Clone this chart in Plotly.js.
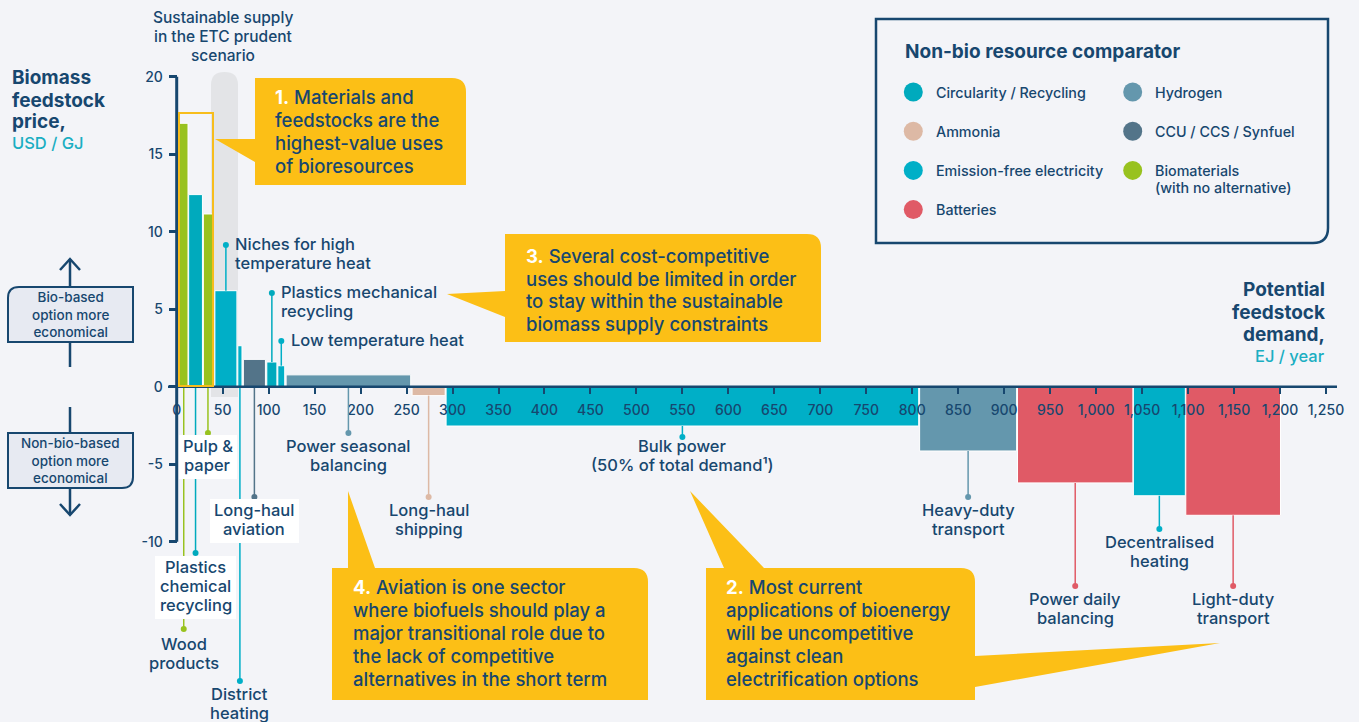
<!DOCTYPE html>
<html>
<head>
<meta charset="utf-8">
<script src="https://cdn.plot.ly/plotly-3.0.1.min.js"></script>
<style>
  html, body { margin: 0; padding: 0; background: #f3f4f8; }
  #chart { width: 1359px; height: 722px; }
</style>
</head>
<body>
<div id="chart"></div>
<script>
// bioresource uses, left to right along the demand axis
var uses = ['Wood<br>products', 'Plastics<br>chemical<br>recycling', 'Pulp &<br>paper',
  'Niches for high<br>temperature heat', 'District<br>heating', 'Long-haul<br>aviation',
  'Plastics mechanical<br>recycling', 'Low temperature heat', 'Power seasonal<br>balancing',
  'Long-haul<br>shipping', 'Bulk power<br>(50% of total demand¹)', 'Heavy-duty<br>transport',
  'Power daily<br>balancing', 'Decentralised<br>heating', 'Light-duty<br>transport'];
// potential feedstock demand, EJ / year (start and end of each block)
var demandFrom = [3, 13, 29, 41.5, 66.5, 72.5, 98, 110, 119, 256, 293, 808, 914.5, 1040.5, 1097.5];
var demandTo = [12.3, 28, 39, 65.5, 71, 96.5, 109, 117.5, 254.5, 292, 807, 913.5, 1040, 1097, 1200.5];
// biomass feedstock price, USD / GJ
var price = [17.0, 12.4, 11.15, 6.2, 2.65, 1.77, 1.6, 1.36, 0.77, -0.57, -2.53, -4.14, -6.2, -7.03, -8.29];
// non-bio resource comparator of each use
var comparator = ['bio', 'circ', 'bio', 'elec', 'elec', 'ccu', 'circ', 'elec', 'h2', 'nh3', 'elec', 'h2', 'batt', 'elec', 'batt'];

var legendKeys = ['circ', 'nh3', 'elec', 'batt', 'h2', 'ccu', 'bio'];
var legendNames = ['Circularity / Recycling', 'Ammonia', 'Emission-free electricity', 'Batteries',
  'Hydrogen', 'CCU / CCS / Synfuel', 'Biomaterials<br>(with no alternative)'];

var xTicks = [0, 50, 100, 150, 200, 250, 300, 350, 400, 450, 500, 550, 600, 650, 700, 750, 800, 850, 900, 950, 1000, 1050, 1100, 1150, 1200, 1250];
var yTicks = [-10, -5, 0, 5, 10, 15, 20];
var yTickText = ['-10', '-5', '0', '5', '10', '15', '20'];

var navy = '#17476f';
var unitTeal = '#1aaec2';
var yellow = '#fcbf16';
var colorOf = {bio: '#98c21f', circ: '#00aabd', elec: '#00afc7', h2: '#6497ad', ccu: '#537489', nh3: '#ddb9a5', batt: '#e05a66'};

// page geometry (px)
var W = 1359, H = 722;
var X0 = 176.7, XS = 0.91944;   // x pixel of 0 EJ, px per EJ
var Y0 = 386.8, YS = 15.5;      // y pixel of 0 USD, px per USD
function fx(p) { return p / W; }
function fy(p) { return 1 - p / H; }
function dy(p) { return (Y0 - p) / YS; }
function pt(x, y) { return fx(x).toFixed(5) + ',' + fy(y).toFixed(5); }

// where the label of each use sits: dot / first line y in px, left x if not centred
var labelSpots = [
  {dot: 629, y: 644}, {dot: 553, y: 567, box: [155, 556, 236, 619]}, {dot: 433, y: 446, box: [179, 435, 237, 479]},
  {dot: 245, y: 244, left: 233}, {dot: 681, y: 694}, {dot: 497, y: 510, box: [210, 499, 299, 543]},
  {dot: 293, y: 292, left: 279}, {dot: 341, y: 340, left: 289}, {dot: 433, y: 446},
  {dot: 497, y: 510}, {dot: 437, y: 446}, {dot: 497, y: 510},
  {dot: 586, y: 599}, {dot: 529, y: 542}, {dot: 586, y: 599}
];

var mids = [], widths = [], barColors = [], dotY = [];
for (var i = 0; i < price.length; i++) {
  mids.push((demandFrom[i] + demandTo[i]) / 2);
  widths.push(demandTo[i] - demandFrom[i]);
  barColors.push(colorOf[comparator[i]]);
  dotY.push(dy(labelSpots[i].dot));
}

var bars = {
  type: 'bar', x: mids, y: price, width: widths,
  marker: {color: barColors, line: {color: '#ffffff', width: 1}},
  hoverinfo: 'skip'
};
var dots = {
  type: 'scatter', mode: 'markers', x: mids, y: dotY, cliponaxis: false,
  marker: {color: barColors, size: 6}, hoverinfo: 'skip'
};

var shapes = [];
var annotations = [];

function textLines(lines, x, xref, y0, step, size, opts) {
  opts = opts || {};
  lines.forEach(function (t, k) {
    annotations.push({
      xref: xref, yref: 'paper', x: x, y: fy(y0 + k * step), text: t, showarrow: false,
      xanchor: opts.anchor || 'center', yanchor: 'middle', align: opts.anchor || 'center',
      font: {family: 'Inter, sans-serif', size: size, weight: opts.weight || 500, color: opts.color || navy}
    });
  });
}

// sustainable supply band
shapes.push({type: 'path', xref: 'paper', yref: 'paper', layer: 'below', line: {width: 0}, fillcolor: '#e3e4e7',
  path: 'M' + pt(211, 397) + 'L' + pt(211, 85) + 'Q' + pt(211, 72) + ' ' + pt(224.5, 72) + 'Q' + pt(238, 72) + ' ' + pt(238, 85) + 'L' + pt(238, 397) + 'Z'});

// leader lines and labels
for (var j = 0; j < price.length; j++) {
  var s = labelSpots[j];
  var from = (s.left || price[j] < 0) ? price[j] : 0;
  shapes.push({type: 'line', xref: 'x', yref: 'y', x0: mids[j], x1: mids[j], y0: from, y1: dotY[j],
    line: {color: barColors[j], width: 1.5}});
  var parts = uses[j].split('<br>');
  if (s.left) textLines(parts, fx(s.left), 'paper', s.y, 19, 16.5, {anchor: 'left'});
  else textLines(parts, mids[j], 'x', s.y, 19, 16.5);
}
labelSpots.forEach(function (s) {
  if (s.box) shapes.push({type: 'rect', xref: 'paper', yref: 'paper', x0: fx(s.box[0]), x1: fx(s.box[2]),
    y0: fy(s.box[3]), y1: fy(s.box[1]), fillcolor: '#ffffff', line: {width: 0}});
});

// axis lines
shapes.push({type: 'line', xref: 'paper', yref: 'y', x0: fx(168), x1: fx(1337), y0: 0, y1: 0, line: {color: navy, width: 2.5}});
shapes.push({type: 'line', xref: 'x', yref: 'y', x0: 0, x1: 0, y0: -10, y1: 20, line: {color: navy, width: 3}});

// highlight around the materials bars
shapes.push({type: 'rect', xref: 'paper', yref: 'paper', x0: fx(179), x1: fx(213), y0: fy(386), y1: fy(113),
  line: {color: '#f7bd1c', width: 2}});

// callouts
function callout(d) {
  shapes.push({type: 'path', xref: 'paper', yref: 'paper', fillcolor: yellow, line: {width: 0}, path: d});
}
callout('M' + pt(255, 78) + 'L' + pt(452, 78) + 'Q' + pt(466, 78) + ' ' + pt(466, 92) + 'L' + pt(466, 185) +
  'L' + pt(255, 185) + 'L' + pt(255, 162) + 'L' + pt(215, 139) + 'L' + pt(255, 139) + 'Z');
callout('M' + pt(505, 234) + 'L' + pt(807, 234) + 'Q' + pt(821, 234) + ' ' + pt(821, 248) + 'L' + pt(821, 342) +
  'L' + pt(505, 342) + 'L' + pt(505, 317) + 'L' + pt(447, 294) + 'L' + pt(505, 291) + 'Z');
callout('M' + pt(332, 568) + 'L' + pt(348, 568) + 'L' + pt(348, 491) + 'L' + pt(375, 568) + 'L' + pt(634, 568) +
  'Q' + pt(648, 568) + ' ' + pt(648, 582) + 'L' + pt(648, 700) + 'L' + pt(332, 700) + 'Z');
callout('M' + pt(706, 568) + 'L' + pt(724, 568) + 'L' + pt(690, 491) + 'L' + pt(764, 568) + 'L' + pt(961, 568) +
  'Q' + pt(975, 568) + ' ' + pt(975, 582) + 'L' + pt(975, 656) + 'L' + pt(1220, 643) + 'L' + pt(975, 687) +
  'L' + pt(975, 700) + 'L' + pt(706, 700) + 'Z');

function num(n) { return '<span style="color:#ffffff"><b>' + n + '</b></span> '; }
textLines([num('1.') + 'Materials and', 'feedstocks are the', 'highest-value uses', 'of bioresources'],
  fx(273), 'paper', 97, 23, 18.5, {anchor: 'left'});
textLines([num('3.') + 'Several cost-competitive', 'uses should be limited in order', 'to stay within the sustainable', 'biomass supply constraints'],
  fx(524), 'paper', 256, 22.5, 18.5, {anchor: 'left'});
textLines([num('4.') + 'Aviation is one sector', 'where biofuels should play a', 'major transitional role due to', 'the lack of competitive', 'alternatives in the short term'],
  fx(351), 'paper', 587, 23, 18.5, {anchor: 'left'});
textLines([num('2.') + 'Most current', 'applications of bioenergy', 'will be uncompetitive', 'against clean', 'electrification options'],
  fx(724), 'paper', 587, 23, 18.5, {anchor: 'left'});

// legend box
shapes.push({type: 'path', xref: 'paper', yref: 'paper', line: {color: navy, width: 2.5},
  path: 'M' + pt(876, 19) + 'L' + pt(1328, 19) + 'L' + pt(1328, 228) + 'Q' + pt(1328, 243) + ' ' + pt(1313, 243) + 'L' + pt(876, 243) + 'Z'});
textLines(['Non-bio resource comparator'], fx(903), 'paper', 52, 20, 19, {anchor: 'left', weight: 700});
legendKeys.forEach(function (k, n) {
  var col = n < 4 ? 0 : 1;
  var row = n < 4 ? n : n - 4;
  var cx = col ? 1132.7 : 913.3;
  var cy = 92 + row * 39.2;
  shapes.push({type: 'circle', xref: 'paper', yref: 'paper', x0: fx(cx - 9.5), x1: fx(cx + 9.5), y0: fy(cy + 9.5), y1: fy(cy - 9.5),
    fillcolor: colorOf[k], line: {width: 0}});
  textLines(legendNames[n].split('<br>'), fx(cx + 20.5), 'paper', cy, 17, 14.3, {anchor: 'left'});
});

// axis titles
textLines(['Biomass', 'feedstock', 'price,'], fx(10), 'paper', 78, 22, 19, {anchor: 'left', weight: 700});
textLines(['USD / GJ'], fx(10), 'paper', 143, 20, 16.5, {anchor: 'left', color: unitTeal});
textLines(['Potential', 'feedstock', 'demand,'], fx(1327), 'paper', 290, 22, 19, {anchor: 'right', weight: 700});
textLines(['EJ / year'], fx(1327), 'paper', 356, 20, 16.5, {anchor: 'right', color: unitTeal});
textLines(['Sustainable supply', 'in the ETC prudent', 'scenario'], fx(223), 'paper', 18, 18.5, 15.5);

// direction boxes on the left
shapes.push({type: 'path', xref: 'paper', yref: 'paper', fillcolor: '#e7eaf2', line: {color: navy, width: 2},
  path: 'M' + pt(8, 342) + 'L' + pt(8, 298) + 'Q' + pt(8, 287) + ' ' + pt(19, 287) + 'L' + pt(133, 287) + 'L' + pt(133, 342) + 'Z'});
shapes.push({type: 'path', xref: 'paper', yref: 'paper', fillcolor: '#e7eaf2', line: {color: navy, width: 2},
  path: 'M' + pt(8, 433) + 'L' + pt(133, 433) + 'L' + pt(133, 477) + 'Q' + pt(133, 488) + ' ' + pt(122, 488) + 'L' + pt(8, 488) + 'Z'});
[[259, 287], [342, 367], [407, 433], [488, 515]].forEach(function (seg) {
  shapes.push({type: 'line', xref: 'paper', yref: 'paper', x0: fx(70), x1: fx(70), y0: fy(seg[0]), y1: fy(seg[1]), line: {color: navy, width: 2.5}});
});
shapes.push({type: 'path', xref: 'paper', yref: 'paper', line: {color: navy, width: 2.5},
  path: 'M' + pt(60, 270) + 'L' + pt(70, 259) + 'L' + pt(80, 270)});
shapes.push({type: 'path', xref: 'paper', yref: 'paper', line: {color: navy, width: 2.5},
  path: 'M' + pt(60, 504) + 'L' + pt(70, 515) + 'L' + pt(80, 504)});
textLines(['Bio-based<br>option more<br>economical'], fx(70.5), 'paper', 314.5, 0, 13.5);
textLines(['Non-bio-based<br>option more<br>economical'], fx(70.5), 'paper', 460.5, 0, 13.5);

var layout = {
  width: W, height: H,
  margin: {l: 0, r: 0, t: 0, b: 0},
  paper_bgcolor: '#f3f4f8',
  plot_bgcolor: 'rgba(0,0,0,0)',
  showlegend: false,
  font: {family: 'Inter, sans-serif', color: navy},
  xaxis: {
    range: [-X0 / XS, (W - X0) / XS], anchor: 'free', position: fy(Y0),
    showgrid: false, zeroline: false, showline: false,
    tickvals: xTicks, tickformat: ',d', ticks: 'outside', ticklen: 6, tickwidth: 2, tickcolor: navy,
    ticklabelstandoff: 4,
    tickfont: {family: 'Inter, sans-serif', size: 14, weight: 500, color: navy}
  },
  yaxis: {
    range: [-(H - Y0) / YS, Y0 / YS], anchor: 'free', position: fx(X0),
    showgrid: false, zeroline: false, showline: false,
    tickvals: yTicks, ticktext: yTickText, ticks: 'outside', ticklen: 8, tickwidth: 3, tickcolor: navy,
    ticklabelstandoff: 3,
    tickfont: {family: 'Inter, sans-serif', size: 14, weight: 500, color: navy}
  },
  shapes: shapes,
  annotations: annotations
};

Plotly.newPlot('chart', [bars, dots], layout, {staticPlot: true, displayModeBar: false});
</script>
</body>
</html>
